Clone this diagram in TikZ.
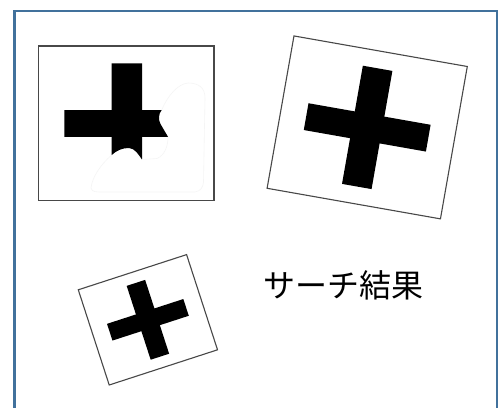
\documentclass[tikz,border=0pt]{standalone}
\usepackage{fontspec}
\newfontfamily\jpfont{Noto Sans CJK JP}
\definecolor{frameblue}{RGB}{65,113,156}
\definecolor{boxgray}{RGB}{72,72,72}
\begin{document}
\begin{tikzpicture}[x=1pt,y=-1pt,
  frameline/.style={draw=frameblue,line width=2.8pt},
  cardline/.style={draw=boxgray,line width=1.1pt},
  faintline/.style={draw=black!4,line width=0.6pt},
  crossfill/.style={fill=black},
  labeltext/.style={font=\jpfont\fontsize{32}{38}\selectfont,inner sep=0pt,text=black}]
\useasboundingbox (0,0) rectangle (503,407);
\fill[white] (0,0) rectangle (503,407);
% outer frame (open at the bottom)
\draw[frameline] (14.3,410) -- (14.3,11) -- (497,11) -- (497,410);

% card 1: upright, cross partly erased
\draw[cardline] (38.3,46) rectangle (214,200.7);
\fill[crossfill] (111.7,63.3) -- (142,63.3) -- (142,110) -- (161.7,110)
  .. controls (158.3,114) and (158.3,120) .. (160.5,124) -- (168,136.8)
  -- (142,136.8) -- (142,159.5)
  .. controls (138,154) and (135,148.5) .. (129,148)
  .. controls (122,147.8) and (116,151) .. (111.7,155)
  -- (111.7,136.8) -- (64.3,136.8) -- (64.3,110) -- (111.7,110) -- cycle;
\draw[faintline] (111.7,155) .. controls (100,165) and (92,178) .. (91,188)
  .. controls (92,192) and (96,192) .. (102,192) -- (195,192)
  .. controls (201,191) and (203,187) .. (203.5,182) -- (205,98)
  .. controls (205,88) and (199,83) .. (188,83)
  .. controls (178,84) and (168,95) .. (161.7,110);
\draw[faintline] (168,136.8) .. controls (168,146) and (165,155) .. (157,158.5) -- (142,159.5);

% card 2: rotated clockwise
\begin{scope}[shift={(367.2,127.4)},rotate=-10]
  \draw[cardline] (-88,-77.35) rectangle (88,77.35);
  \fill[crossfill] (-15,-60) rectangle (15,60);
  \fill[crossfill] (-62,-13.6) rectangle (62,13.6);
\end{scope}

% card 3: smaller, rotated anticlockwise
\begin{scope}[shift={(147.9,319.8)},rotate=18,scale=0.647]
  \draw[cardline] (-88,-77.35) rectangle (88,77.35);
  \fill[crossfill] (-15,-60) rectangle (15,60);
  \fill[crossfill] (-62,-13.6) rectangle (62,13.6);
\end{scope}

\node[labeltext] (result) at (343,285) {サーチ結果};
\end{tikzpicture}
\end{document}
